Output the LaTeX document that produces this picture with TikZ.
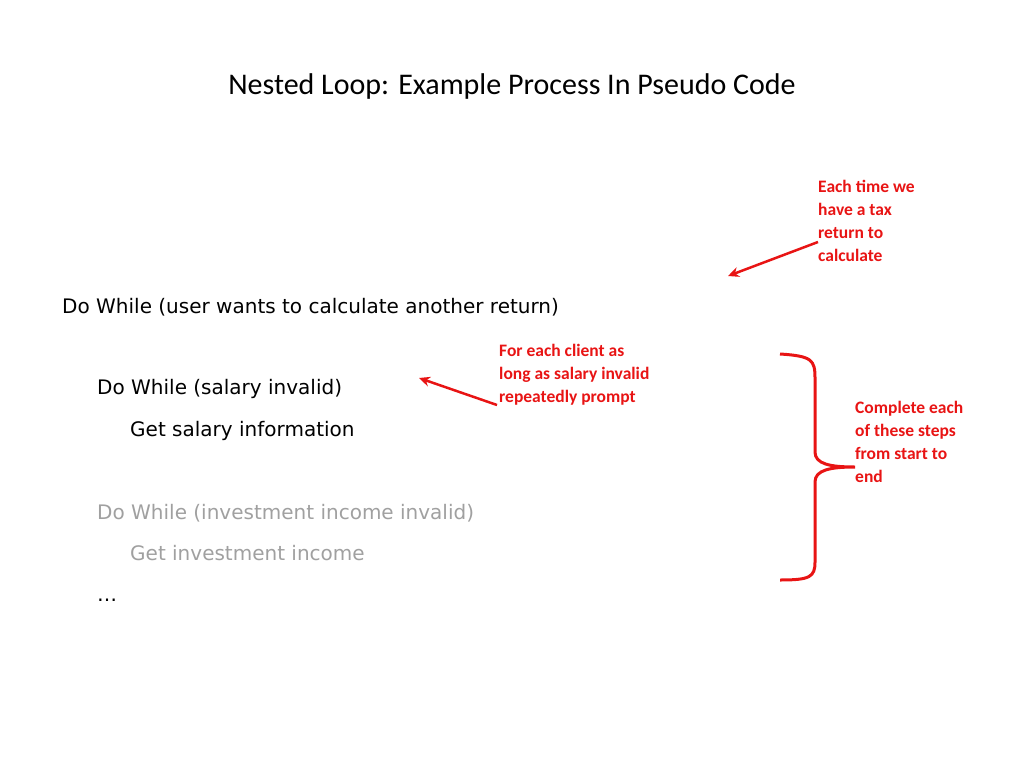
\documentclass[tikz,border=0pt]{standalone}
\usepackage{fontspec}
\usetikzlibrary{arrows.meta}
\setmainfont{DejaVu Sans}
\newfontfamily\calfont{Carlito}
\definecolor{rd}{RGB}{232,20,20}
\definecolor{gr}{RGB}{160,160,160}
\begin{document}
\begin{tikzpicture}[x=1pt,y=-1pt,
  code/.style={anchor=west,inner sep=0pt,font=\fontsize{20}{24}\selectfont},
  note/.style={anchor=north west,inner sep=0pt,align=left,text=rd,font=\calfont\bfseries\fontsize{17.5}{23}\selectfont},
  arr/.style={draw=rd,line width=2.5pt,-{Stealth[length=11pt,width=10pt]}}]
\useasboundingbox (0,0) rectangle (1024,768);
\node[inner sep=0pt,font=\calfont\fontsize{30}{36}\selectfont] (title) at (512,87) {Nested Loop: Example Process In Pseudo Code};
\node[code] (l1) at (62,307) {Do While (user wants to calculate another return)};
\node[code] (l2) at (97,389) {Do While (salary invalid)};
\node[code] (l3) at (130,431) {Get salary information};
\node[code,text=gr] (l4) at (97,513) {Do While (investment income invalid)};
\node[code,text=gr] (l5) at (130,553) {Get investment income};
\node[code] (l6) at (97,600) {…};
\node[note] (n1) at (818,180) {Each time we\\have a tax\\return to\\calculate};
\node[note] (n2) at (499,344) {For each client as\\long as salary invalid\\repeatedly prompt};
\node[note] (n3) at (855,401) {Complete each\\of these steps\\from start to\\end};
\coordinate (a1s) at (818,242);
\coordinate (a1e) at (728,276);
\coordinate (a2s) at (497,405);
\coordinate (a2e) at (419,378);
\draw[arr] (a1s) -- (a1e);
\draw[arr] (a2s) -- (a2e);
\draw[rd,line width=3pt] (780,354) .. controls (812,356) and (815,360) .. (815,378)
  -- (815,452) .. controls (815,464) and (830,467) .. (855,467)
  .. controls (830,467) and (815,470) .. (815,482)
  -- (815,562) .. controls (815,577) and (810,580) .. (780,580);
\end{tikzpicture}
\end{document}
